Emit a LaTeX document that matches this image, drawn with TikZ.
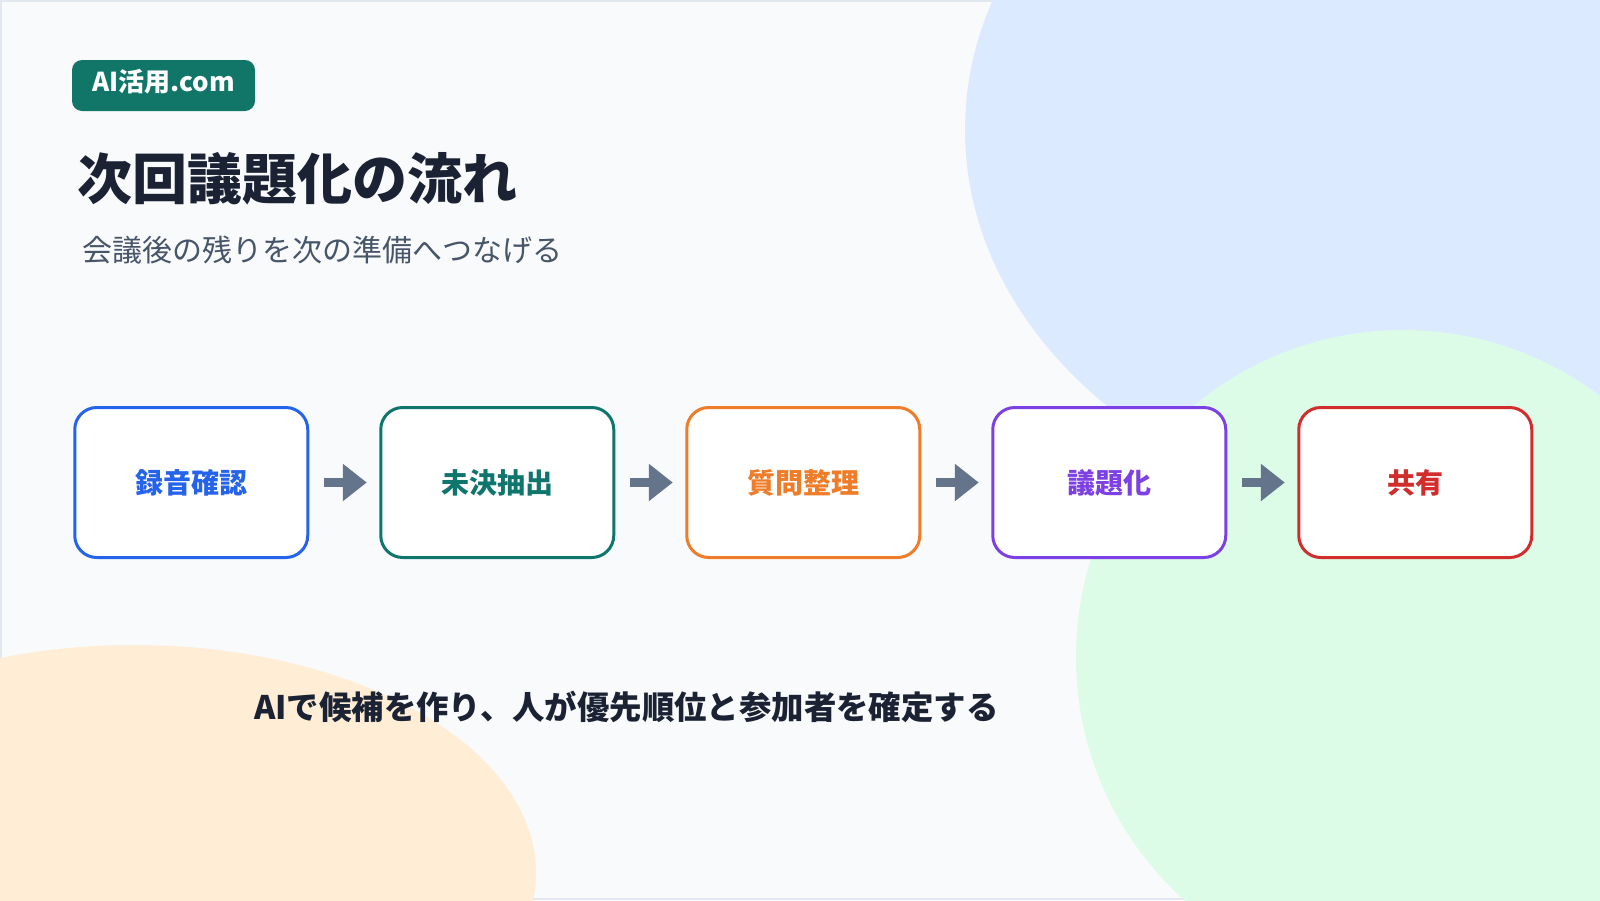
\documentclass[tikz,border=0pt]{standalone}
\usepackage{fontspec}
\setmainfont{Noto Sans CJK JP}
\usepackage{xcolor}
\definecolor{slidebg}{RGB}{248, 250, 252}
\definecolor{slideedge}{RGB}{226, 232, 240}
\definecolor{blobblue}{RGB}{219, 234, 254}
\definecolor{blobgreen}{RGB}{220, 252, 231}
\definecolor{bloborange}{RGB}{255, 237, 213}
\definecolor{brandteal}{RGB}{17, 117, 104}
\definecolor{titleink}{RGB}{26, 34, 51}
\definecolor{subink}{RGB}{71, 85, 105}
\definecolor{flowgray}{RGB}{100, 116, 139}
\definecolor{stepblue}{RGB}{37, 99, 235}
\definecolor{stepteal}{RGB}{15, 118, 110}
\definecolor{steporange}{RGB}{238, 124, 40}
\definecolor{steppurple}{RGB}{124, 64, 228}
\definecolor{stepred}{RGB}{210, 45, 45}
\usepackage{tikz}
\usetikzlibrary{positioning, arrows.meta}
\tikzset{
    stepbox/.style={
        draw,
        fill=white,
        line width=3pt,
        rounded corners=22pt,
        minimum width=233pt,
        minimum height=150pt,
        align=center,
        font=\fontsize{28}{34}\selectfont\bfseries
    },
    brandbox/.style={
        fill=brandteal,
        text=white,
        rounded corners=10pt,
        minimum width=183pt,
        minimum height=51pt,
        text depth=10pt,
        font=\fontsize{26}{30}\selectfont\bfseries
    },
    arrow/.style={
        -{Triangle[length=24pt,width=36pt]},
        line width=9pt,
        flowgray
    }
}

\begin{document}
\begin{tikzpicture}[x=1pt, y=-1pt]

% ---------------------------------------------------------
% Background
% ---------------------------------------------------------

\useasboundingbox (0,0) rectangle (1600,900);
\fill[slidebg] (0,0) rectangle (1600,900);
\draw[slideedge, line width=2pt] (1,1) rectangle (1599,899);

% soft blobs, cut at the slide edge
\begin{scope}
    \clip (0,0) rectangle (1600,900);
    \fill[blobblue] (1480,130) ellipse [x radius=515, y radius=400];
    \fill[blobgreen] (1403,657) circle [radius=327];
    \fill[bloborange] (134,873) ellipse [x radius=402, y radius=228];
\end{scope}

% ---------------------------------------------------------
% Header
% ---------------------------------------------------------

\node[brandbox] (brand) at (163.5,85.5) {AI活用.com};

\node[anchor=west, inner sep=0pt, text=titleink,
      font=\fontsize{55}{66}\selectfont\bfseries] (title) at (77,179)
    {次回議題化の流れ};

\node[anchor=west, inner sep=0pt, text=subink,
      font=\fontsize{30}{36}\selectfont] (subtitle) at (82,250)
    {会議後の残りを次の準備へつなげる};

% ---------------------------------------------------------
% Steps
% ---------------------------------------------------------

\node[stepbox, draw=stepblue, text=stepblue] (rec) at (191.25,482.5) {録音確認};
\node[stepbox, draw=stepteal, text=stepteal, right=70pt of rec] (open) {未決抽出};
\node[stepbox, draw=steporange, text=steporange, right=70pt of open] (ques) {質問整理};
\node[stepbox, draw=steppurple, text=steppurple, right=70pt of ques] (agenda) {議題化};
\node[stepbox, draw=stepred, text=stepred, right=70pt of agenda] (share) {共有};

% ---------------------------------------------------------
% Arrows
% ---------------------------------------------------------

\draw[arrow] ([xshift=15pt]rec.east) -- ([xshift=-12.5pt]open.west);
\draw[arrow] ([xshift=15pt]open.east) -- ([xshift=-12.5pt]ques.west);
\draw[arrow] ([xshift=15pt]ques.east) -- ([xshift=-12.5pt]agenda.west);
\draw[arrow] ([xshift=15pt]agenda.east) -- ([xshift=-12.5pt]share.west);

% Takeaway at bottom
\node[anchor=west, inner sep=0pt, text=titleink,
      font=\fontsize{32.4}{39}\selectfont\bfseries] (takeaway) at (254,707)
    {AIで候補を作り、人が優先順位と参加者を確定する};

\end{tikzpicture}
\end{document}
